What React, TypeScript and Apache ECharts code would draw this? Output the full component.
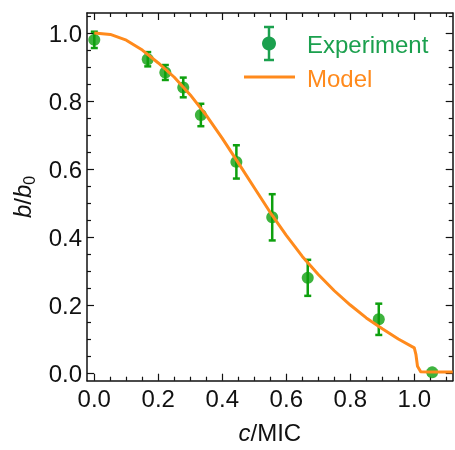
import React, { useEffect, useRef } from "react";
import * as echarts from "echarts";

// ---- data ----
const expX = [0.0, 0.167, 0.222, 0.278, 0.333, 0.444, 0.556, 0.667, 0.889, 1.056];
const expY = [0.98, 0.923, 0.884, 0.84, 0.759, 0.621, 0.458, 0.28, 0.158, 0.002];
const expErr = [0.024, 0.021, 0.022, 0.029, 0.033, 0.049, 0.068, 0.053, 0.046, 0.0];

const modelX = [0, 0.05, 0.1, 0.15, 0.2, 0.25, 0.3, 0.35, 0.4, 0.45, 0.5, 0.55, 0.6, 0.65, 0.7, 0.75, 0.8, 0.85, 0.9, 0.95, 1.0, 1.005, 1.01, 1.02, 1.05, 1.12];
const modelY = [1.0, 0.996, 0.979, 0.95, 0.912, 0.87, 0.818, 0.758, 0.69, 0.618, 0.545, 0.472, 0.405, 0.343, 0.29, 0.242, 0.2, 0.162, 0.13, 0.1, 0.074, 0.055, 0.02, 0.004, 0.003, 0.003];

const xMajorTicks = [0, 0.2, 0.4, 0.6, 0.8, 1.0];
const xMinorTicks = [0.05, 0.1, 0.15, 0.25, 0.3, 0.35, 0.45, 0.5, 0.55, 0.65, 0.7, 0.75, 0.85, 0.9, 0.95, 1.05, 1.1];
const yMajorTicks = [0, 0.2, 0.4, 0.6, 0.8, 1.0];
const yMinorTicks = [0.05, 0.1, 0.15, 0.25, 0.3, 0.35, 0.45, 0.5, 0.55, 0.65, 0.7, 0.75, 0.85, 0.9, 0.95, 1.05];

const X_MIN = -0.0228, X_MAX = 1.12;
const Y_MIN = -0.0226, Y_MAX = 1.059;

const GREEN = "#0EA00E";
const LEGEND_GREEN = "#1BA04E";
const ORANGE = "#FF8A1C";
const FONT = "Liberation Sans, Arial, sans-serif";

export default function App() {
  const ref = useRef<HTMLDivElement>(null);
  useEffect(() => {
    if (!ref.current) return;
    const chart = echarts.init(ref.current, undefined, { renderer: "svg" });

    const mkX = (pos: "bottom" | "top", major: boolean, main: boolean) => ({
      type: "value",
      position: pos,
      min: X_MIN,
      max: X_MAX,
      splitLine: { show: false },
      axisLine: { show: main, onZero: false, lineStyle: { color: "#111", width: 1.5 } },
      axisTick: {
        show: true,
        inside: true,
        length: major ? 7 : 4,
        customValues: major ? xMajorTicks : xMinorTicks,
        lineStyle: { color: "#111", width: 1.2 },
      },
      axisLabel: {
        show: pos === "bottom" && major,
        customValues: xMajorTicks,
        formatter: (v: number) => v.toFixed(1),
        color: "#111",
        fontSize: 24,
        fontFamily: FONT,
        margin: 6,
      },
    });
    const mkY = (pos: "left" | "right", major: boolean, main: boolean) => ({
      type: "value",
      position: pos,
      min: Y_MIN,
      max: Y_MAX,
      splitLine: { show: false },
      axisLine: { show: main, onZero: false, lineStyle: { color: "#111", width: 1.5 } },
      axisTick: {
        show: true,
        inside: true,
        length: major ? 7 : 4,
        customValues: major ? yMajorTicks : yMinorTicks,
        lineStyle: { color: "#111", width: 1.2 },
      },
      axisLabel: {
        show: pos === "left" && major,
        customValues: yMajorTicks,
        formatter: (v: number) => v.toFixed(1),
        color: "#111",
        fontSize: 24,
        fontFamily: FONT,
        margin: 5,
      },
    });

    const xAxes: any[] = [mkX("bottom", true, true), mkX("bottom", false, false), mkX("top", true, true), mkX("top", false, false)];
    const yAxes: any[] = [mkY("left", true, true), mkY("left", false, false), mkY("right", true, true), mkY("right", false, false)];

    xAxes[0].name = "{i|c}{n|/MIC}";
    xAxes[0].nameLocation = "middle";
    xAxes[0].nameGap = 40;
    xAxes[0].nameTextStyle = {
      rich: {
        i: { fontStyle: "italic", fontSize: 24, fontFamily: FONT, color: "#111" },
        n: { fontSize: 24, fontFamily: FONT, color: "#111" },
      },
    };
    yAxes[0].name = "{i|b}{n|/}{i|b}{sub|0}";
    yAxes[0].nameLocation = "middle";
    yAxes[0].nameGap = 48;
    yAxes[0].nameTextStyle = {
      rich: {
        i: { fontStyle: "italic", fontSize: 24, fontFamily: FONT, color: "#111", lineHeight: 30 },
        n: { fontSize: 24, fontFamily: FONT, color: "#111", lineHeight: 30 },
        sub: { fontSize: 16, fontFamily: FONT, color: "#111", verticalAlign: "bottom", lineHeight: 16, padding: [12, 0, 0, 0] },
      },
    };

    const expData = expX.map((x, i) => [x, expY[i], expErr[i]]);
    const modelData = modelX.map((x, i) => [x, modelY[i]]);

    chart.setOption({
      animation: false,
      grid: { left: 87, right: 2.3, top: 13, bottom: 69.3, containLabel: false },
      xAxis: xAxes,
      yAxis: yAxes,
      series: [
        {
          type: "custom",
          name: "errors",
          xAxisIndex: 0,
          yAxisIndex: 0,
          data: expData,
          encode: { x: 0, y: 1 },
          z: 3,
          renderItem: (params: any, api: any) => {
            const x = api.value(0), y = api.value(1), e = api.value(2);
            if (!e) return { type: "group", children: [] };
            const t = api.coord([x, y + e]);
            const b = api.coord([x, y - e]);
            const hw = 3.5;
            const st = { stroke: GREEN, lineWidth: 2.5 };
            return {
              type: "group",
              children: [
                { type: "line", shape: { x1: t[0], y1: t[1], x2: b[0], y2: b[1] }, style: st },
                { type: "line", shape: { x1: t[0] - hw, y1: t[1], x2: t[0] + hw, y2: t[1] }, style: st },
                { type: "line", shape: { x1: b[0] - hw, y1: b[1], x2: b[0] + hw, y2: b[1] }, style: st },
              ],
            };
          },
        },
        {
          type: "scatter",
          name: "Experiment",
          xAxisIndex: 0,
          yAxisIndex: 0,
          data: expData.map((d) => [d[0], d[1]]),
          symbol: "circle",
          symbolSize: 12,
          itemStyle: { color: GREEN },
          z: 4,
        },
        {
          type: "line",
          name: "Model",
          xAxisIndex: 0,
          yAxisIndex: 0,
          data: modelData,
          showSymbol: false,
          smooth: false,
          lineStyle: { color: ORANGE, width: 3, join: "round" },
          z: 5,
        },
      ],
      graphic: [
        { type: "line", shape: { x1: 269, y1: 27, x2: 269, y2: 60 }, style: { stroke: LEGEND_GREEN, lineWidth: 2.5 } },
        { type: "line", shape: { x1: 264, y1: 27, x2: 274, y2: 27 }, style: { stroke: LEGEND_GREEN, lineWidth: 2.5 } },
        { type: "line", shape: { x1: 264, y1: 60, x2: 274, y2: 60 }, style: { stroke: LEGEND_GREEN, lineWidth: 2.5 } },
        { type: "circle", shape: { cx: 269, cy: 43.5, r: 7 }, style: { fill: LEGEND_GREEN } },
        { type: "text", x: 307, y: 44, style: { text: "Experiment", fill: LEGEND_GREEN, font: `24px ${FONT}`, verticalAlign: "middle" } },
        { type: "line", shape: { x1: 244, y1: 77, x2: 295, y2: 77 }, style: { stroke: ORANGE, lineWidth: 3 } },
        { type: "text", x: 307, y: 78, style: { text: "Model", fill: ORANGE, font: `24px ${FONT}`, verticalAlign: "middle" } },
      ],
    });
    return () => chart.dispose();
  }, []);
  return <div ref={ref} style={{ position: "fixed", left: 0, top: 0, width: 455, height: 450 }} />;
}
